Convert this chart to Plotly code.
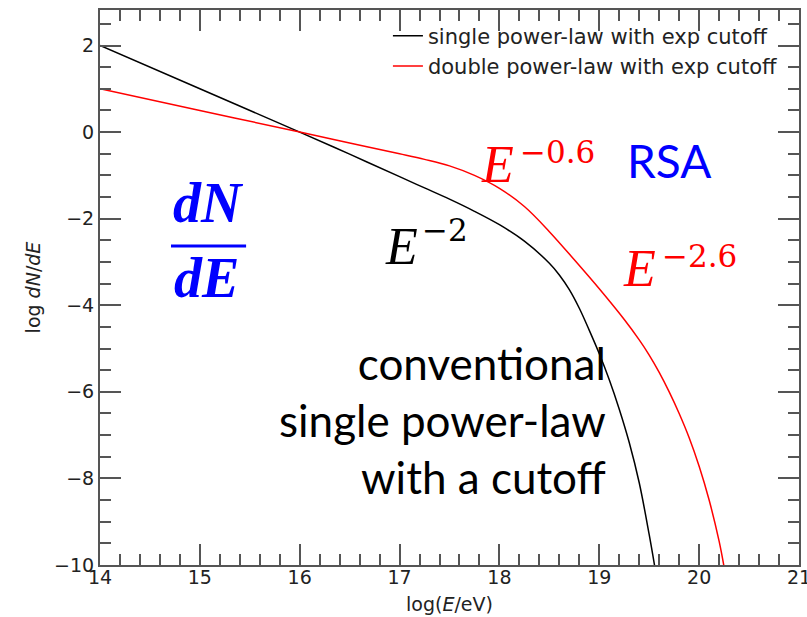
import plotly.graph_objects as go

# ---- data ----
log_e_single = [14.0, 15.0, 16.0, 16.5, 17.0, 17.25, 17.5, 17.75, 18.0, 18.25, 18.5,
                18.6, 18.7, 18.8, 18.9, 19.0, 19.1, 19.2, 19.3, 19.4, 19.5, 19.56]
log_dnde_single = [2.0, 1.0, 0.0, -0.51, -1.03, -1.29, -1.55, -1.83, -2.14, -2.52, -3.03,
                   -3.3, -3.64, -4.07, -4.58, -5.12, -5.72, -6.4, -7.17, -8.1, -9.3, -10.1]

log_e_double = [14.0, 15.0, 16.0, 16.5, 17.0, 17.25, 17.5, 17.75, 18.0, 18.25, 18.5, 18.75,
                19.0, 19.25, 19.4, 19.5, 19.6, 19.7, 19.8, 19.9, 20.0, 20.1, 20.2, 20.25]
log_dnde_double = [1.0, 0.5, 0.0, -0.25, -0.5, -0.63, -0.78, -1.0, -1.3, -1.72, -2.3, -2.95,
                   -3.62, -4.33, -4.8, -5.15, -5.55, -6.0, -6.5, -7.06, -7.72, -8.5, -9.45, -10.05]

series_names = ["single power-law with exp cutoff", "double power-law with exp cutoff"]
x_range = [14, 21]
y_range = [-10, 2.82]

AX = "#555555"
TICKFONT = dict(family="DejaVu Sans", size=19, color="#222222")

fig = go.Figure()
fig.add_trace(go.Scatter(x=log_e_single, y=log_dnde_single, mode="lines",
                         line=dict(color="black", width=1.5, shape="spline", smoothing=1.0),
                         name=series_names[0]))
fig.add_trace(go.Scatter(x=log_e_double, y=log_dnde_double, mode="lines",
                         line=dict(color="red", width=1.5, shape="spline", smoothing=1.0),
                         name=series_names[1]))
# empty trace that carries the minor-tick overlay axes
fig.add_trace(go.Scatter(x=[None], y=[None], xaxis="x2", yaxis="y2", mode="lines",
                         showlegend=False, hoverinfo="skip"))

axis_common = dict(
    showgrid=False, zeroline=False, showline=True, linecolor=AX, linewidth=2,
    mirror="allticks", ticks="inside", ticklen=21, tickwidth=1.5, tickcolor=AX,
    tickfont=TICKFONT, ticklabeloverflow="allow", tickmode="linear", tick0=0,
    automargin=False,
)
minor_common = dict(
    showgrid=False, zeroline=False, showline=True, linecolor=AX, linewidth=2,
    mirror="allticks", ticks="inside", ticklen=11, tickwidth=1.5, tickcolor=AX,
    showticklabels=False, tickmode="linear", tick0=0, automargin=False,
)
fig.update_layout(
    xaxis=dict(range=x_range, dtick=1, ticklabelstandoff=-6,
               minor=dict(ticks="inside", dtick=0.2, ticklen=11, tickwidth=1.5, tickcolor=AX),
               title=dict(text="log(<i>E</i>/eV)", font=dict(family="DejaVu Sans", size=19, color="#222222"),
                          standoff=11),
               **axis_common),
    yaxis=dict(range=y_range, dtick=2,
               minor=dict(ticks="inside", dtick=0.5, ticklen=11, tickwidth=1.5, tickcolor=AX),
               title=dict(text="log <i>dN</i>/<i>dE</i>", font=dict(family="DejaVu Sans", size=19, color="#222222"),
                          standoff=8),
               **axis_common),
    xaxis2=dict(overlaying="x", side="bottom", range=x_range, dtick=0.2, **minor_common),
    yaxis2=dict(overlaying="y", side="left", range=y_range, dtick=0.5, **minor_common),
)

ann = []
def add(text, x, y, size, color, family, xanchor="center", align="center"):
    ann.append(dict(text=text, x=x, y=y, xref="x", yref="y", showarrow=False,
                    xanchor=xanchor, yanchor="middle", align=align,
                    font=dict(family=family, size=size, color=color)))

# E^-0.6
add("<i>E</i>", 17.978, -0.757, 52, "red", "Liberation Serif")
add("\u22120.6", 18.188, -0.457, 31, "red", "DejaVu Serif", xanchor="left")
# E^-2
add("<i>E</i>", 17.016, -2.637, 52, "black", "Liberation Serif")
add("\u22122", 17.206, -2.256, 31, "black", "DejaVu Serif", xanchor="left")
# E^-2.6
add("<i>E</i>", 19.40, -3.156, 52, "red", "Liberation Serif")
add("\u22122.6", 19.611, -2.856, 31, "red", "DejaVu Serif", xanchor="left")
# RSA
add("RSA", 19.701, -0.653, 46, "blue", "Lato")
# dN/dE fraction
add("<b><i>dN</i></b>", 15.082, -1.645, 56, "blue", "Liberation Serif")
add("<b><i>dE</i></b>", 15.07, -3.375, 56, "blue", "Liberation Serif")
# big text
add("conventional<br>single power-law<br>with a cutoff", 19.09, -6.65, 44, "black", "Lato",
    xanchor="right", align="right")

fig.update_layout(
    width=807, height=617,
    margin=dict(l=100, r=8, t=10, b=52),
    paper_bgcolor="white", plot_bgcolor="white",
    showlegend=True,
    legend=dict(x=0.977, y=0.99, xanchor="right", yanchor="top",
                bgcolor="rgba(255,255,255,0)", borderwidth=0,
                font=dict(family="DejaVu Sans", size=21, color="#222222"),
                tracegroupgap=0),
    annotations=ann,
    shapes=[dict(type="line", xref="x", yref="y", x0=14.711, x1=15.463, y0=-2.63, y1=-2.63,
                 line=dict(color="blue", width=3))],
)

fig.write_html("out.html")
